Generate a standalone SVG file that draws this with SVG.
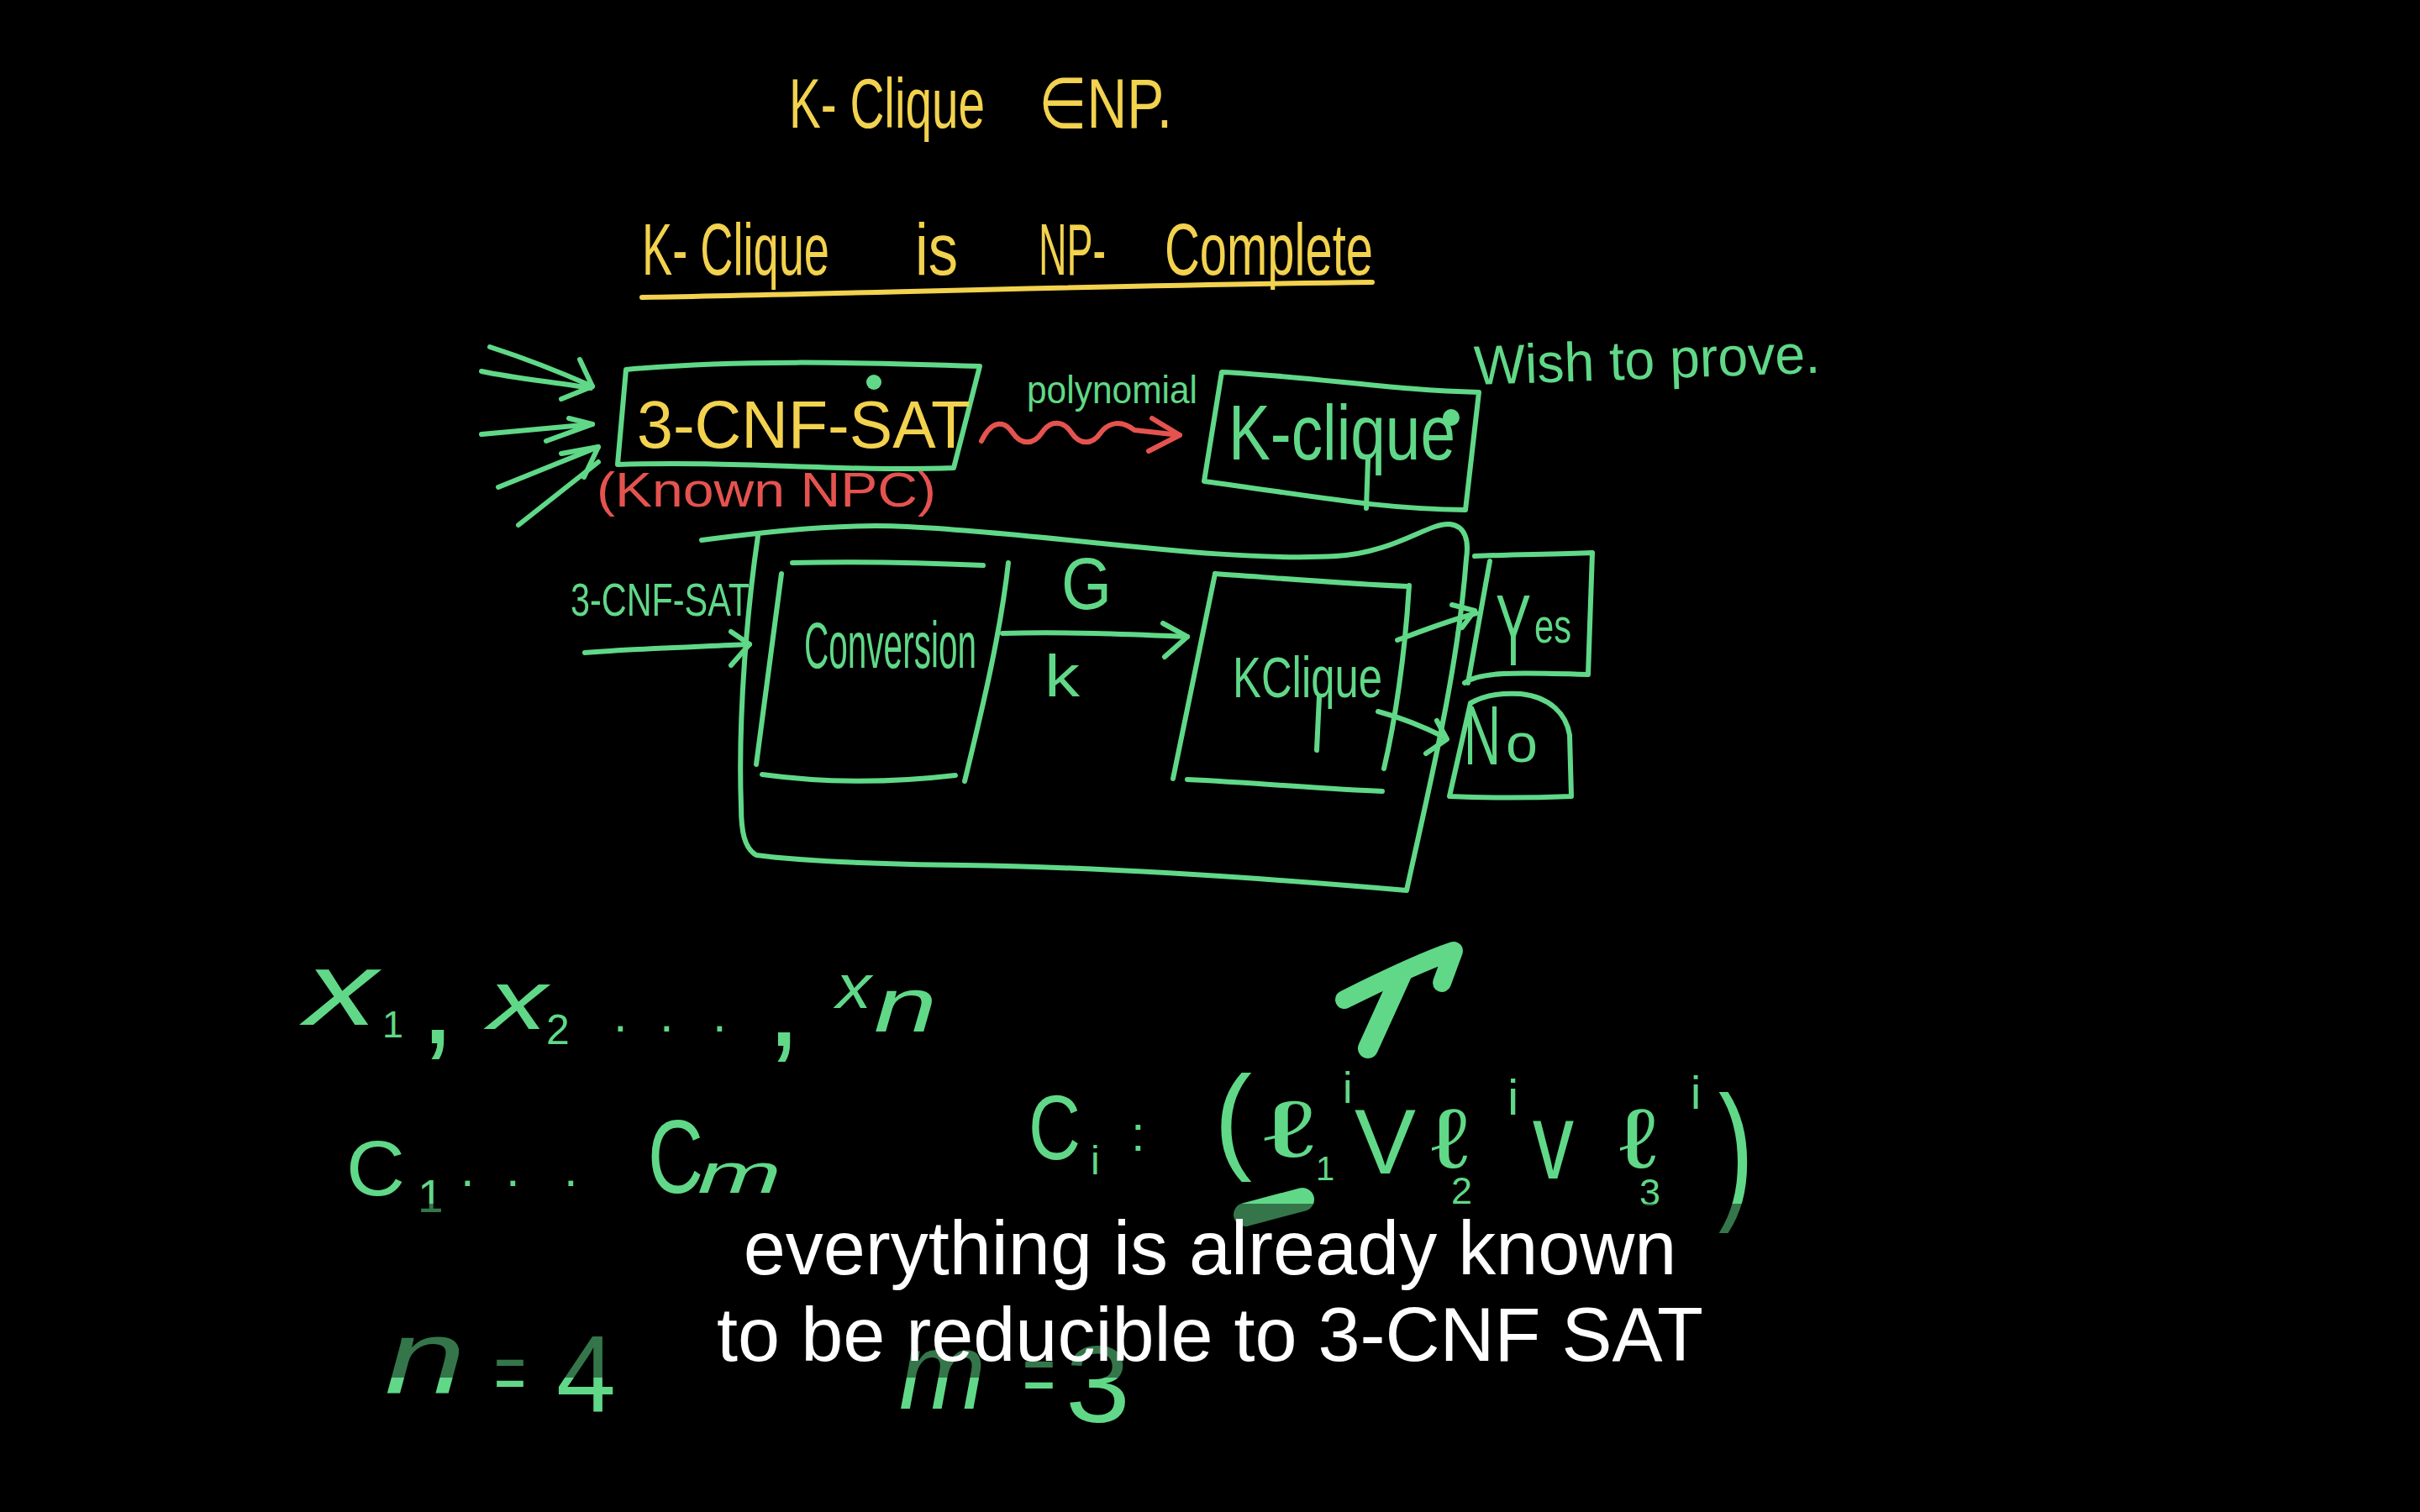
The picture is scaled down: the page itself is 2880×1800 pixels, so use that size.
<svg xmlns="http://www.w3.org/2000/svg" width="2880" height="1800" viewBox="0 0 2880 1800">
<style>
.hw{font-family:"Liberation Sans","DejaVu Sans",sans-serif}
.mi{font-family:"Liberation Sans","DejaVu Sans",sans-serif;font-style:italic}
.g{fill:#60d888}
.y{fill:#f2d24e}
.r{fill:#e5534f}
.ln{fill:none;stroke-width:6;stroke-linecap:round;stroke-linejoin:round}
.gs{stroke:#60d888}
.ys{stroke:#f2d24e}
.rs{stroke:#e5534f}
.thick{fill:none;stroke:#60d888;stroke-linecap:round;stroke-linejoin:round}
.sub{font-family:"Liberation Sans","Arial",sans-serif;font-size:90px;fill:#ffffff;text-anchor:middle}
</style>
<rect x="0" y="0" width="2880" height="1800" fill="#000000"/>

<g id="title">
  <text class="hw y" x="939" y="152" font-size="84" textLength="233" lengthAdjust="spacingAndGlyphs">K- Clique</text>
  <text class="hw y" x="1236" y="152" font-size="84" textLength="159" lengthAdjust="spacingAndGlyphs">∈NP.</text>
  <text class="hw y" x="764" y="327" font-size="88" textLength="223" lengthAdjust="spacingAndGlyphs">K- Clique</text>
  <text class="hw y" x="1089" y="327" font-size="88" textLength="51" lengthAdjust="spacingAndGlyphs">is</text>
  <text class="hw y" x="1236" y="327" font-size="88" textLength="80" lengthAdjust="spacingAndGlyphs">NP-</text>
  <text class="hw y" x="1386" y="327" font-size="88" textLength="248" lengthAdjust="spacingAndGlyphs">Complete</text>
  <path class="ln ys" d="M764,354 C1000,350 1300,340 1633,336"/>
</g>

<g id="node-3cnfsat">
  <path class="ln gs" d="M745,440 C870,428 1020,431 1166,436 L1135,557 C1000,562 880,548 735,553 Z"/>
  <text class="hw y" x="758" y="533" font-size="80" textLength="397" lengthAdjust="spacingAndGlyphs">3-CNF-SAT</text>
  <circle cx="1040" cy="455" r="9" class="g"/>
  <text class="hw r" x="710" y="603" font-size="58" textLength="404" lengthAdjust="spacingAndGlyphs">(Known NPC)</text>
</g>

<g id="node-kclique-top">
  <path class="ln gs" d="M1454,443 C1560,448 1660,465 1760,467 L1744,607 C1640,606 1560,590 1433,573 Z"/>
  <text class="hw g" x="1462" y="547" font-size="92" textLength="270" lengthAdjust="spacingAndGlyphs">K-clique</text>
  <path class="ln gs" d="M1628,547 L1626,605"/>
  <circle cx="1727" cy="497" r="10" class="g"/>
</g>

<g id="wish">
  <text class="hw g" x="1755" y="458" font-size="66" textLength="412" lengthAdjust="spacingAndGlyphs" transform="rotate(-2 1755 458)">Wish to prove.</text>
</g>

<g id="big-box">
  <path class="ln gs" d="M835,643 C950,628 1020,624 1080,627 C1250,635 1450,670 1590,662 C1660,658 1700,622 1725,624 C1745,626 1748,645 1745,665 C1735,800 1700,940 1674,1060 C1500,1045 1300,1032 1147,1030 C1000,1028 930,1022 900,1018 C886,1010 882,990 882,960 C878,850 890,720 902,638"/>
</g>

<g id="node-conversion">
  <path class="ln gs" d="M943,670 C1020,668 1100,670 1170,673"/>
  <path class="ln gs" d="M930,683 L900,910"/>
  <path class="ln gs" d="M1200,670 C1190,760 1165,860 1148,930"/>
  <path class="ln gs" d="M907,922 C980,932 1060,932 1137,923"/>
  <text class="hw g" x="957" y="795" font-size="78" textLength="205" lengthAdjust="spacingAndGlyphs">Conversion</text>
</g>

<g id="node-kclique-inner">
  <path class="ln gs" d="M1446,683 C1520,688 1600,695 1674,698"/>
  <path class="ln gs" d="M1446,683 L1396,927"/>
  <path class="ln gs" d="M1677,697 C1672,780 1660,860 1647,915"/>
  <path class="ln gs" d="M1413,928 C1500,932 1580,940 1645,942"/>
  <text class="hw g" x="1467" y="830" font-size="68" textLength="178" lengthAdjust="spacingAndGlyphs">KClique</text>
  <path class="ln gs" d="M1570,830 L1567,893"/>
</g>

<g id="node-yes">
  <path class="ln gs" d="M1755,662 C1800,660 1850,660 1895,658 L1890,803 C1800,800 1760,800 1743,813"/>
  <path class="ln gs" d="M1773,668 L1747,813"/>
  <text class="hw g" x="1780" y="792" font-size="120" textLength="42" lengthAdjust="spacingAndGlyphs">Y</text>
  <text class="hw g" x="1826" y="765" font-size="58" textLength="44" lengthAdjust="spacingAndGlyphs">es</text>
</g>

<g id="node-no">
  <path class="ln gs" d="M1750,837 C1770,826 1790,825 1810,826 C1845,830 1864,850 1868,875 L1870,948 C1820,950 1770,950 1725,948 Z"/>
  <text class="hw g" x="1742" y="910" font-size="100" textLength="44" lengthAdjust="spacingAndGlyphs">N</text>
  <text class="hw g" x="1792" y="907" font-size="64" textLength="38" lengthAdjust="spacingAndGlyphs">o</text>
</g>

<g id="labels">
  <text class="hw g" x="1222" y="480" font-size="46" textLength="203" lengthAdjust="spacingAndGlyphs">polynomial</text>
  <text class="hw g" x="679" y="733" font-size="56" textLength="213" lengthAdjust="spacingAndGlyphs">3-CNF-SAT</text>
  <text class="hw g" x="1263" y="725" font-size="88" textLength="60" lengthAdjust="spacingAndGlyphs">G</text>
  <text class="hw g" x="1243" y="829" font-size="70" textLength="42" lengthAdjust="spacingAndGlyphs">k</text>
</g>

<g id="connectors">
  <path class="ln gs" d="M583,413 C620,425 660,440 705,460"/>
  <path class="ln gs" d="M573,442 C610,450 660,455 703,462"/>
  <path class="ln gs" d="M690,428 L705,460 L668,475"/>
  <path class="ln gs" d="M573,517 L705,505"/>
  <path class="ln gs" d="M677,498 L705,505 L650,525"/>
  <path class="ln gs" d="M593,580 L712,532"/>
  <path class="ln gs" d="M617,625 L712,550"/>
  <path class="ln gs" d="M668,540 L712,532 L695,568"/>
  <path class="ln rs" d="M1168,525 C1180,500 1195,500 1205,515 C1215,530 1230,530 1240,515 C1250,500 1265,500 1275,515 C1285,530 1300,530 1310,515 C1320,502 1335,500 1350,512 L1404,518"/>
  <path class="ln rs" d="M1371,498 L1404,518 L1367,537"/>
  <path class="ln gs" d="M696,777 C760,772 830,770 892,767"/>
  <path class="ln gs" d="M870,752 L892,767 L870,792"/>
  <path class="ln gs" d="M1193,754 C1270,752 1340,755 1413,758"/>
  <path class="ln gs" d="M1384,742 L1413,758 L1386,782"/>
  <path class="ln gs" d="M1663,762 C1690,752 1720,740 1757,730"/>
  <path class="ln gs" d="M1728,720 L1755,727 L1740,747"/>
  <path class="ln gs" d="M1640,847 C1670,855 1700,868 1720,878"/>
  <path class="ln gs" d="M1710,858 L1722,880 L1697,897"/>
</g>

<g id="variables">
  <text class="mi g" x="363" y="1220" font-size="125" textLength="86" lengthAdjust="spacingAndGlyphs">x</text>
  <text class="hw g" x="455" y="1235" font-size="45">1</text>
  <text class="hw g" x="500" y="1242" font-size="150">,</text>
  <text class="mi g" x="581" y="1225" font-size="100" textLength="70" lengthAdjust="spacingAndGlyphs">x</text>
  <text class="hw g" x="650" y="1243" font-size="50">2</text>
  <text class="hw g" x="730 785 848" y="1228" font-size="60">...</text>
  <text class="hw g" x="912" y="1245" font-size="150">,</text>
  <text class="mi g" x="995" y="1200" font-size="75" textLength="42" lengthAdjust="spacingAndGlyphs">x</text>
  <text class="mi g" x="1040" y="1228" font-size="90" textLength="75" lengthAdjust="spacingAndGlyphs">n</text>
</g>

<g id="clauses">
  <text class="hw g" x="412" y="1423" font-size="92" textLength="70" lengthAdjust="spacingAndGlyphs">C</text>
  <text class="hw g" x="497" y="1443" font-size="55">1</text>
  <text class="hw g" x="548 602 671" y="1412" font-size="60">...</text>
  <text class="hw g" x="771" y="1420" font-size="125" textLength="66" lengthAdjust="spacingAndGlyphs">C</text>
  <text class="mi g" x="830" y="1420" font-size="66" textLength="100" lengthAdjust="spacingAndGlyphs">m</text>
</g>

<g id="clause-ci">
  <path class="thick" stroke-width="22" d="M1600,1190 C1650,1165 1700,1142 1730,1132 L1716,1170"/>
  <path class="thick" stroke-width="24" d="M1668,1160 L1628,1248"/>
  <text class="hw g" x="1224" y="1380" font-size="110" textLength="62" lengthAdjust="spacingAndGlyphs">C</text>
  <text class="hw g" x="1298" y="1398" font-size="48">i</text>
  <text class="hw g" x="1346" y="1370" font-size="60">:</text>
  <text class="hw g" x="1445" y="1378" font-size="140" textLength="45" lengthAdjust="spacingAndGlyphs">(</text>
  <text class="hw g" x="1503" y="1377" font-size="95" textLength="62" lengthAdjust="spacingAndGlyphs">ℓ</text>
  <text class="hw g" x="1598" y="1313" font-size="52">i</text>
  <text class="hw g" x="1566" y="1405" font-size="40">1</text>
  <text class="hw g" x="1612" y="1397" font-size="110" textLength="73" lengthAdjust="spacingAndGlyphs">V</text>
  <text class="hw g" x="1703" y="1390" font-size="100" textLength="45" lengthAdjust="spacingAndGlyphs">ℓ</text>
  <text class="hw g" x="1794" y="1327" font-size="60">i</text>
  <text class="hw g" x="1727" y="1433" font-size="45">2</text>
  <text class="hw g" x="1824" y="1403" font-size="130" textLength="49" lengthAdjust="spacingAndGlyphs">v</text>
  <text class="hw g" x="1927" y="1390" font-size="100" textLength="45" lengthAdjust="spacingAndGlyphs">ℓ</text>
  <text class="hw g" x="2012" y="1320" font-size="55">i</text>
  <text class="hw g" x="1951" y="1435" font-size="45">3</text>
  <text class="hw g" x="2045" y="1431" font-size="180" textLength="42" lengthAdjust="spacingAndGlyphs">)</text>
  <path class="thick" stroke-width="28" d="M1482,1446 L1550,1428"/>
</g>

<g id="counts">
  <text class="mi g" x="458" y="1658" font-size="125" textLength="96" lengthAdjust="spacingAndGlyphs">n</text>
  <text class="hw g" x="588" y="1668" font-size="100" textLength="38" lengthAdjust="spacingAndGlyphs">=</text>
  <text class="hw g" x="662" y="1680" font-size="130" textLength="71" lengthAdjust="spacingAndGlyphs">4</text>
  <text class="mi g" x="1070" y="1677" font-size="130" textLength="103" lengthAdjust="spacingAndGlyphs">m</text>
  <text class="hw g" x="1217" y="1670" font-size="100" textLength="39" lengthAdjust="spacingAndGlyphs">=</text>
  <text class="hw g" x="1268" y="1693" font-size="130" textLength="77" lengthAdjust="spacingAndGlyphs">3</text>
</g>

<g id="subtitle">
  <rect x="0" y="1433" width="2880" height="207" fill="#000000" fill-opacity="0.45"/>
  <text class="sub" x="1440" y="1517">everything is already known</text>
  <text class="sub" x="1440" y="1620">to be reducible to 3-CNF SAT</text>
</g>
</svg>
